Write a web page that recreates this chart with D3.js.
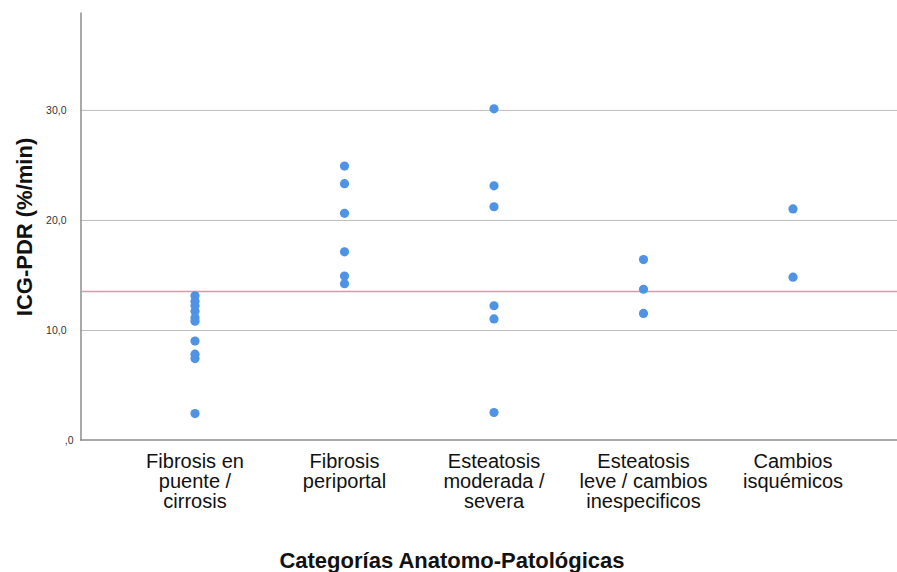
<!DOCTYPE html>
<html>
<head>
<meta charset="utf-8">
<script src="https://cdn.jsdelivr.net/npm/d3@7"></script>
<style>
  body { margin: 0; background: #fff; }
  svg { display: block; font-family: "Liberation Sans", Arial, sans-serif; }
</style>
</head>
<body>
<svg id="chart" width="897" height="572"></svg>
<script>
// Categories (each label broken into lines)
const categories = [
  "Fibrosis en|puente /|cirrosis",
  "Fibrosis|periportal",
  "Esteatosis|moderada /|severa",
  "Esteatosis|leve / cambios|inespecificos",
  "Cambios|isquémicos"
];

// ICG-PDR (%/min) observations per category
const fibrosisPuente = [13.1, 12.6, 12.2, 11.7, 11.1, 10.8, 9.0, 7.8, 7.4, 2.4];
const fibrosisPeriportal = [24.9, 23.3, 20.6, 17.1, 14.9, 14.2];
const esteatosisModerada = [30.1, 23.1, 21.2, 12.2, 11.0, 2.5];
const esteatosisLeve = [16.4, 13.7, 11.5];
const cambiosIsquemicos = [21.0, 14.8];

const seriesValues = [fibrosisPuente, fibrosisPeriportal, esteatosisModerada, esteatosisLeve, cambiosIsquemicos];

// Reference line value
const referenceValue = 13.5;

const yTicks = [0, 10, 20, 30];
const yTickLabels = [",0", "10,0", "20,0", "30,0"];

const svg = d3.select("#chart");

const plot = { left: 80, right: 897, top: 12, bottom: 440 };

const x = d3.scalePoint()
  .domain(categories)
  .range([195, 793]);

const y = d3.scaleLinear()
  .domain([0, 38.9])
  .range([plot.bottom, plot.top]);

// Horizontal gridlines
svg.append("g")
  .selectAll("line")
  .data(yTicks.filter(d => d > 0))
  .join("line")
  .attr("x1", plot.left)
  .attr("x2", plot.right)
  .attr("y1", d => y(d) + 0.5)
  .attr("y2", d => y(d) + 0.5)
  .attr("stroke", "#bdbdbd")
  .attr("stroke-width", 1);

// Y axis
const yAxis = d3.axisLeft(y)
  .tickValues(yTicks)
  .tickSize(0)
  .tickPadding(14)
  .tickFormat((d, i) => yTickLabels[i]);

const gy = svg.append("g")
  .attr("transform", `translate(${plot.left + 0.5},0)`)
  .call(yAxis);
gy.select(".domain").attr("stroke", "#8c8c8c").attr("stroke-width", 1.5);
gy.selectAll("text")
  .attr("font-size", 10.5)
  .attr("fill", "#333")
  .attr("dx", d => d === 0 ? 7 : 0)
  .style("font-family", "'Liberation Sans', Arial, sans-serif");

// X axis line
svg.append("line")
  .attr("x1", plot.left)
  .attr("x2", plot.right)
  .attr("y1", plot.bottom)
  .attr("y2", plot.bottom)
  .attr("stroke", "#8c8c8c")
  .attr("stroke-width", 1.5);

// Category labels
const xLabels = svg.append("g")
  .selectAll("text")
  .data(categories)
  .join("text")
  .attr("x", d => x(d))
  .attr("y", 468)
  .attr("text-anchor", "middle")
  .attr("font-size", 20)
  .attr("fill", "#111");
xLabels.each(function(d) {
  const lines = d.split("|");
  d3.select(this).selectAll("tspan")
    .data(lines)
    .join("tspan")
    .attr("x", x(d))
    .attr("dy", (l, i) => i === 0 ? 0 : 20)
    .text(l => l);
});

// Reference line
svg.append("line")
  .attr("x1", plot.left + 1)
  .attr("x2", plot.right)
  .attr("y1", y(referenceValue))
  .attr("y2", y(referenceValue))
  .attr("stroke", "#ee8fa6")
  .attr("stroke-width", 1.5);

// Points
const points = [];
categories.forEach((c, i) => seriesValues[i].forEach(v => points.push({ c, v })));

svg.append("g")
  .selectAll("circle")
  .data(points)
  .join("circle")
  .attr("cx", d => x(d.c))
  .attr("cy", d => y(d.v))
  .attr("r", 4.6)
  .attr("fill", "#4f93e6");

// Axis titles
svg.append("text")
  .attr("transform", `translate(32,227) rotate(-90)`)
  .attr("text-anchor", "middle")
  .attr("font-size", 22)
  .attr("font-weight", "bold")
  .attr("fill", "#111")
  .text("ICG-PDR (%/min)");

svg.append("text")
  .attr("x", 452)
  .attr("y", 568)
  .attr("text-anchor", "middle")
  .attr("font-size", 22)
  .attr("font-weight", "bold")
  .attr("fill", "#111")
  .text("Categorías Anatomo-Patológicas");
</script>
</body>
</html>
